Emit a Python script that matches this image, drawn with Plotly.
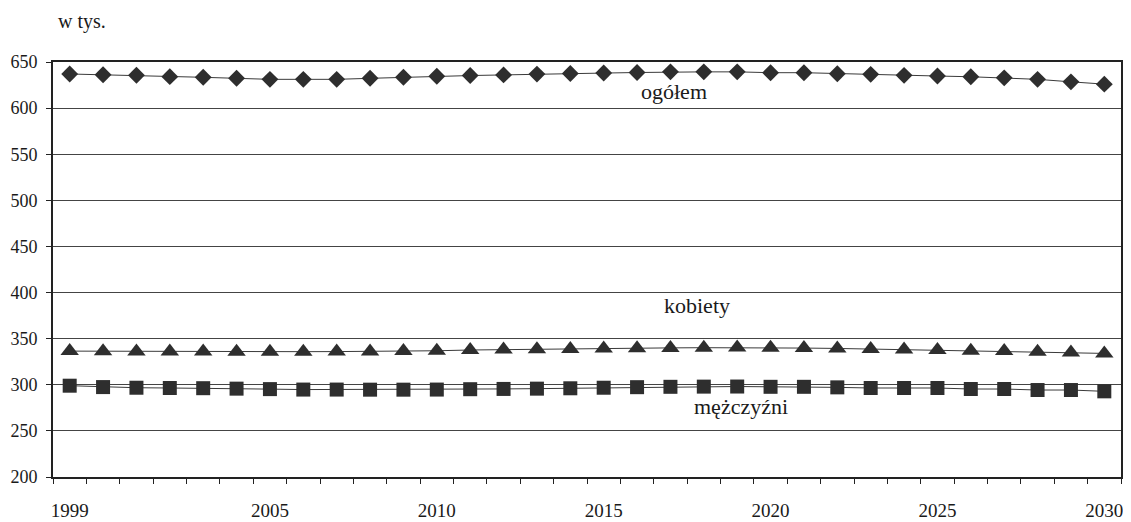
import plotly.graph_objects as go

years = list(range(1999, 2031))

ogolem = [637.0, 636.2, 635.6, 634.1, 633.4, 632.3, 631.2, 631.2, 631.2, 632.3,
          633.5, 634.5, 635.3, 636.0, 636.9, 637.5, 638.0, 638.6, 639.3, 639.3,
          639.3, 638.4, 638.4, 637.3, 636.6, 635.5, 634.8, 634.0, 632.8, 631.2,
          628.5, 626.0]

kobiety = [336.5, 336.3, 336.2, 336.0, 336.0, 335.9, 335.9, 335.9, 336.0, 336.2,
           336.6, 336.9, 337.7, 338.2, 338.5, 338.8, 339.3, 339.6, 340.0, 340.2,
           340.3, 340.2, 339.8, 339.4, 338.8, 338.3, 337.7, 337.0, 336.5, 335.8,
           335.0, 334.0]

mezczyzni = [299.0, 297.5, 296.8, 296.5, 296.3, 295.8, 295.3, 294.8, 294.8, 294.7,
             294.7, 294.8, 295.2, 295.5, 295.8, 296.2, 296.8, 297.4, 297.8, 298.0,
             298.1, 297.8, 297.8, 297.2, 296.5, 296.5, 296.5, 295.4, 295.4, 294.3,
             294.3, 292.9]

x_tick_years = [1999, 2005, 2010, 2015, 2020, 2025, 2030]
y_ticks = [200, 250, 300, 350, 400, 450, 500, 550, 600, 650]

series_labels = [
    ("ogółem", 2017.1, 617.5),
    ("kobiety", 2017.8, 386.5),
    ("mężczyźni", 2019.1, 276.0),
]

FONT = "Liberation Serif"
TXT = "#1a1a1a"
MARK = "#2e2e2e"
LINE = "#3a3a3a"

fig = go.Figure()
fig.add_trace(go.Scatter(x=years, y=ogolem, mode="lines+markers", name="ogółem",
                         line=dict(color=LINE, width=1),
                         marker=dict(symbol="diamond", size=13, color=MARK,
                                     line=dict(width=0))))
fig.add_trace(go.Scatter(x=years, y=kobiety, mode="lines+markers", name="kobiety",
                         line=dict(color=LINE, width=1),
                         marker=dict(symbol="triangle-up", size=16, color=MARK,
                                     line=dict(width=0))))
fig.add_trace(go.Scatter(x=years, y=mezczyzni, mode="lines+markers", name="mężczyźni",
                         line=dict(color=LINE, width=1),
                         marker=dict(symbol="square", size=14, color=MARK,
                                     line=dict(width=0))))

for text, xv, yv in series_labels:
    fig.add_annotation(x=xv, y=yv, text=text, showarrow=False,
                       font=dict(family=FONT, size=22, color=TXT))

fig.add_annotation(xref="paper", yref="paper", x=0.0, xshift=3, y=1.0, yshift=41,
                   xanchor="left", yanchor="middle", text="w tys.", showarrow=False,
                   font=dict(family=FONT, size=20, color=TXT))

fig.update_layout(
    width=1115, height=514,
    margin=dict(l=45, r=2, t=54, b=45),
    paper_bgcolor="white", plot_bgcolor="white",
    showlegend=False,
    font=dict(family=FONT, size=19, color=TXT),
)
fig.update_xaxes(
    range=[1998.5, 2030.5],
    tickvals=x_tick_years, ticktext=[str(y) for y in x_tick_years],
    tickfont=dict(family=FONT, size=19, color=TXT),
    ticks="", showgrid=False, zeroline=False, automargin=False,
    ticklabeloverflow="allow",
    showline=True, linecolor="#222", linewidth=2, mirror=True,
    ticklabelstandoff=15,
    minor=dict(tick0=1998.5, dtick=1, ticks="outside", ticklen=5,
               tickcolor="#222", tickwidth=1, showgrid=False),
)
fig.update_yaxes(
    range=[200, 650], tickvals=y_ticks,
    tickfont=dict(family=FONT, size=18, color=TXT),
    ticks="outside", ticklen=5, tickcolor="#222", automargin=False,
    ticklabeloverflow="allow",
    showgrid=True, gridcolor="#444", gridwidth=1, zeroline=False,
    showline=True, linecolor="#222", linewidth=2, mirror=True,
    ticklabelstandoff=5,
)

fig.write_html("out.html")
